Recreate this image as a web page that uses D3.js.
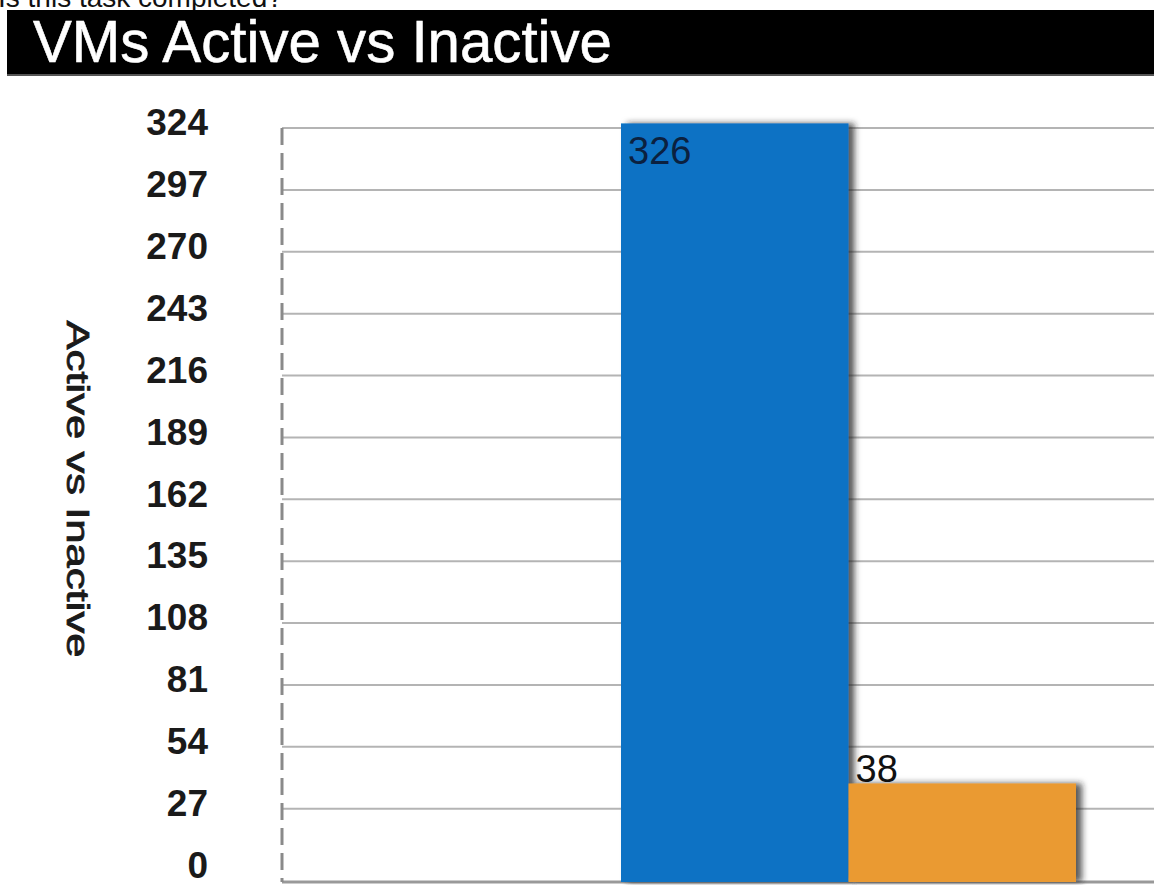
<!DOCTYPE html>
<html>
<head>
<meta charset="utf-8">
<script src="https://cdn.jsdelivr.net/npm/d3@7"></script>
<style>
  body { margin: 0; background: #fff; }
  svg { display: block; font-family: "Liberation Sans", Arial, sans-serif; }
</style>
</head>
<body>
<svg id="chart" width="1154" height="885"></svg>
<script>
// chart data
const categories = ["Active", "Inactive"];
const values = [326, 38];
const barColors = ["#0872c4", "#ea9a30"];
const tickValues = [0, 27, 54, 81, 108, 135, 162, 189, 216, 243, 270, 297, 324];

const svg = d3.select("#chart");
const width = +svg.attr("width");
const height = +svg.attr("height");

// layout
const plotLeft = 282, plotTop = 128, plotBottom = 882;

const y = d3.scaleLinear()
    .domain([-5, 324])
    .range([plotBottom, plotTop]);

const x = d3.scaleBand()
    .domain(categories)
    .range([621, 1076])
    .padding(0);

// drop shadow for the bars
const defs = svg.append("defs");
const shadow = defs.append("filter")
    .attr("id", "shadow")
    .attr("x", "-10%").attr("y", "-10%")
    .attr("width", "130%").attr("height", "130%");
shadow.append("feDropShadow")
    .attr("dx", 6).attr("dy", 0)
    .attr("stdDeviation", 3)
    .attr("flood-color", "#222")
    .attr("flood-opacity", 0.75);

// cut off question text at the very top (only its lower part shows)
svg.append("text")
    .attr("x", -2).attr("y", 7)
    .attr("font-size", 28)
    .attr("fill", "#111")
    .text("Is this task completed?");

// title banner
svg.append("rect")
    .attr("x", 7).attr("y", 10)
    .attr("width", width - 7).attr("height", 65)
    .attr("fill", "#000");
svg.append("line")
    .attr("x1", 7).attr("x2", width)
    .attr("y1", 75).attr("y2", 75)
    .attr("stroke", "#555").attr("stroke-width", 2);
svg.append("text")
    .attr("x", 33).attr("y", 62)
    .attr("font-size", 60)
    .attr("fill", "#fff")
    .attr("stroke", "#fff")
    .attr("stroke-width", 0.6)
    .attr("textLength", 579)
    .attr("lengthAdjust", "spacingAndGlyphs")
    .text("VMs Active vs Inactive");

// gridlines (no line at zero, the baseline sits at the plot bottom)
svg.append("g")
    .selectAll("line")
    .data(tickValues.filter(d => d > 0))
    .join("line")
    .attr("x1", plotLeft).attr("x2", width)
    .attr("y1", d => y(d)).attr("y2", d => y(d))
    .attr("stroke", "#b4b4b4")
    .attr("stroke-width", 2);

// baseline
svg.append("line")
    .attr("x1", plotLeft).attr("x2", width)
    .attr("y1", plotBottom).attr("y2", plotBottom)
    .attr("stroke", "#999")
    .attr("stroke-width", 3);

// dashed y axis line
svg.append("line")
    .attr("x1", plotLeft).attr("x2", plotLeft)
    .attr("y1", plotTop).attr("y2", plotBottom)
    .attr("stroke", "#8a8a8a")
    .attr("stroke-width", 3)
    .attr("stroke-dasharray", "17,8");

// y tick labels
const yAxis = d3.axisLeft(y)
    .tickValues(tickValues)
    .tickSize(0)
    .tickPadding(0);
const gy = svg.append("g")
    .attr("transform", "translate(208,-5)")
    .call(yAxis);
gy.select(".domain").remove();
gy.selectAll("text")
    .attr("font-size", 37)
    .attr("font-weight", "bold")
    .attr("font-family", "'Liberation Sans', Arial, sans-serif")
    .attr("fill", "#1a1a1a");

// y axis title
svg.append("text")
    .attr("transform", "translate(67,489) rotate(90)")
    .attr("text-anchor", "middle")
    .attr("font-size", 32)
    .attr("fill", "#1a1a1a")
    .attr("stroke", "#1a1a1a")
    .attr("stroke-width", 0.8)
    .attr("textLength", 337)
    .attr("lengthAdjust", "spacingAndGlyphs")
    .text("Active vs Inactive");

// bars
svg.append("g")
    .selectAll("rect")
    .data(values)
    .join("rect")
    .attr("x", (d, i) => x(categories[i]))
    .attr("y", d => y(d))
    .attr("width", x.bandwidth())
    .attr("height", d => plotBottom - y(d))
    .attr("fill", (d, i) => barColors[i])
    .attr("filter", "url(#shadow)");

// value labels: big bar gets it inside, small bar above
svg.append("g")
    .selectAll("text")
    .data(values)
    .join("text")
    .attr("x", (d, i) => x(categories[i]) + 7)
    .attr("y", (d, i) => i === 0 ? y(d) + 41 : y(d) - 1)
    .attr("font-size", 38)
    .attr("fill", (d, i) => i === 0 ? "#0b2140" : "#111")
    .text(d => d);
</script>
</body>
</html>
